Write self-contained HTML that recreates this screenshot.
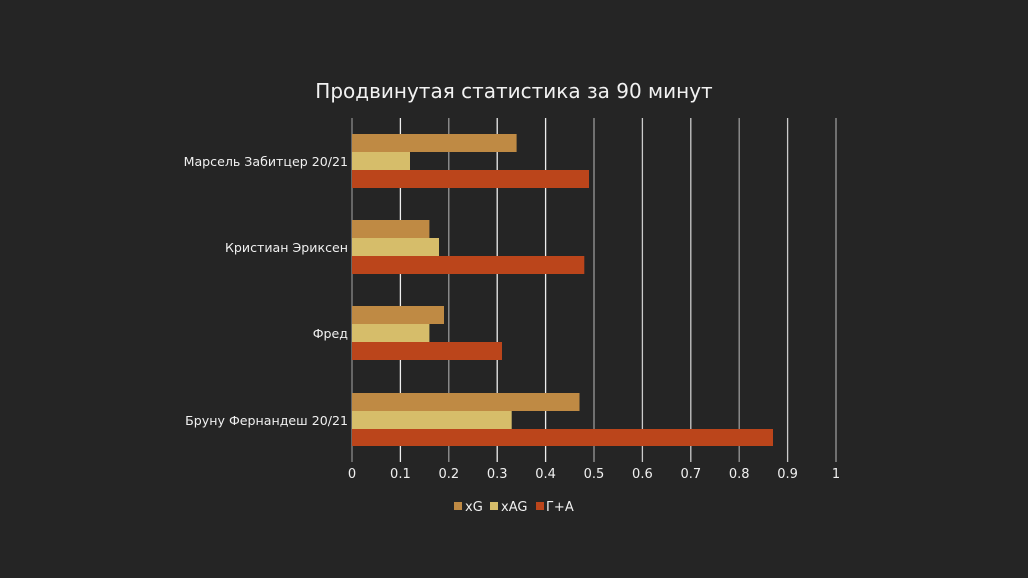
<!DOCTYPE html>
<html><head><meta charset="utf-8"><style>
html,body{margin:0;padding:0;background:#262626;}
svg{display:block;font-family:"DejaVu Sans","Liberation Sans",sans-serif;}
</style></head><body>
<svg width="1028" height="578" viewBox="0 0 1028 578">
<rect width="1028" height="578" fill="#252525"/>
<text x="514" y="98" fill="#f2f2f2" font-size="20" text-anchor="middle">Продвинутая статистика за 90 минут</text>
<g stroke-width="1.3">
<line x1="352" y1="118" x2="352" y2="462" stroke="#8a8a8a"/>
<line x1="400.4" y1="118" x2="400.4" y2="462" stroke="#eee"/>
<line x1="448.8" y1="118" x2="448.8" y2="462" stroke="#999"/>
<line x1="497.2" y1="118" x2="497.2" y2="462" stroke="#eee"/>
<line x1="545.6" y1="118" x2="545.6" y2="462" stroke="#eee"/>
<line x1="594" y1="118" x2="594" y2="462" stroke="#999"/>
<line x1="642.4" y1="118" x2="642.4" y2="462" stroke="#ccc"/>
<line x1="690.8" y1="118" x2="690.8" y2="462" stroke="#ccc"/>
<line x1="739.2" y1="118" x2="739.2" y2="462" stroke="#999"/>
<line x1="787.6" y1="118" x2="787.6" y2="462" stroke="#ccc"/>
<line x1="836" y1="118" x2="836" y2="462" stroke="#999"/>
</g>
<g>
<rect x="352" y="134" width="164.6" height="18" fill="#bf8a44"/>
<rect x="352" y="152" width="58" height="18" fill="#d6bd6a"/>
<rect x="352" y="170" width="237" height="18" fill="#bb451b"/>
<rect x="352" y="220" width="77.4" height="18" fill="#bf8a44"/>
<rect x="352" y="238" width="87" height="18" fill="#d6bd6a"/>
<rect x="352" y="256" width="232.3" height="18" fill="#bb451b"/>
<rect x="352" y="306" width="92" height="18" fill="#bf8a44"/>
<rect x="352" y="324" width="77.4" height="18" fill="#d6bd6a"/>
<rect x="352" y="342" width="150" height="18" fill="#bb451b"/>
<rect x="352" y="393" width="227.5" height="18" fill="#bf8a44"/>
<rect x="352" y="411" width="159.7" height="18" fill="#d6bd6a"/>
<rect x="352" y="429" width="421" height="17" fill="#bb451b"/>
</g>
<g fill="#f0f0f0" font-size="12.6" text-anchor="end">
<text x="348" y="166">Марсель Забитцер 20/21</text>
<text x="348" y="252">Кристиан Эриксен</text>
<text x="348" y="338">Фред</text>
<text x="348" y="425">Бруну Фернандеш 20/21</text>
</g>
<g fill="#f0f0f0" font-size="13" text-anchor="middle">
<text x="352" y="478">0</text><text x="400.4" y="478">0.1</text><text x="448.8" y="478">0.2</text>
<text x="497.2" y="478">0.3</text><text x="545.6" y="478">0.4</text><text x="594" y="478">0.5</text>
<text x="642.4" y="478">0.6</text><text x="690.8" y="478">0.7</text><text x="739.2" y="478">0.8</text>
<text x="787.6" y="478">0.9</text><text x="836" y="478">1</text>
</g>
<g font-size="13" fill="#f0f0f0">
<rect x="454" y="502" width="8" height="8" fill="#bf8a44"/><text x="465" y="511">xG</text>
<rect x="490" y="502" width="8" height="8" fill="#d6bd6a"/><text x="501" y="511">xAG</text>
<rect x="536" y="502" width="8" height="8" fill="#bb451b"/><text x="546" y="511">Г+А</text>
</g>
</svg>
</body></html>
